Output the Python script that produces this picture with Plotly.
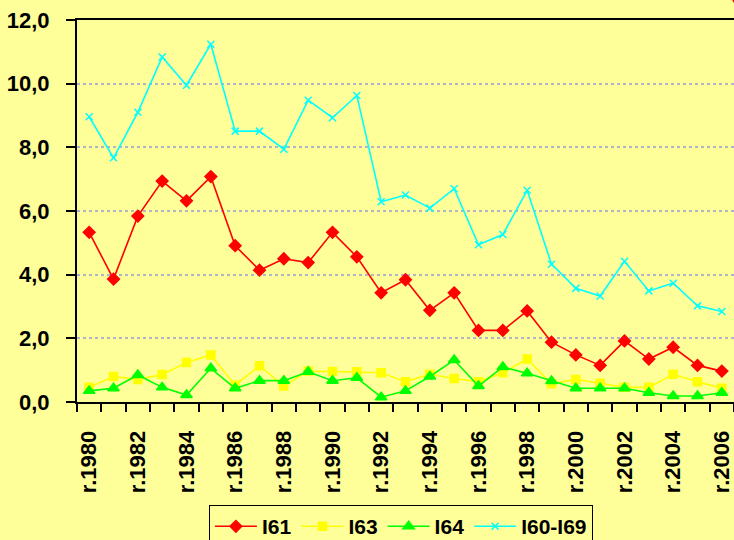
import plotly.graph_objects as go

years = list(range(1980, 2007))
tick_labels = [f"r.{y}" for y in years]

i61 = [5.33, 3.86, 5.84, 6.94, 6.32, 7.08, 4.91, 4.14, 4.50, 4.38, 5.33, 4.56, 3.43, 3.84, 2.88,
       3.43, 2.25, 2.25, 2.86, 1.88, 1.48, 1.15, 1.92, 1.35, 1.72, 1.15, 0.97]
i63 = [0.46, 0.80, 0.71, 0.86, 1.24, 1.48, 0.53, 1.14, 0.50, 0.97, 0.96, 0.95, 0.92, 0.64, 0.87,
       0.74, 0.64, 0.92, 1.35, 0.57, 0.71, 0.59, 0.46, 0.46, 0.87, 0.64, 0.43]
i64 = [0.35, 0.43, 0.85, 0.46, 0.22, 1.06, 0.43, 0.67, 0.67, 0.95, 0.67, 0.76, 0.15, 0.35, 0.80,
       1.32, 0.50, 1.10, 0.90, 0.66, 0.43, 0.43, 0.43, 0.29, 0.19, 0.19, 0.29]
i60_69 = [8.96, 7.67, 9.10, 10.84, 9.95, 11.24, 8.51, 8.51, 7.94, 9.48, 8.93, 9.63, 6.29, 6.50, 6.09,
          6.70, 4.94, 5.26, 6.65, 4.33, 3.57, 3.33, 4.42, 3.49, 3.73, 3.02, 2.84]

series = [
    ("I61", i61, "#FF0000", "diamond", 9),
    ("I63", i63, "#FFFF00", "square", 8),
    ("I64", i64, "#00FF00", "triangle-up", 10),
    ("I60-I69", i60_69, "#00FFFF", "x-thin", 7),
]

x = list(range(len(years)))
fig = go.Figure()
for name, vals, color, sym, size in series:
    fig.add_trace(go.Scatter(
        x=x, y=vals, name=name, mode="lines+markers",
        line=dict(color=color, width=1.6),
        marker=dict(symbol=sym, size=size, color=color,
                    line=dict(color=color, width=1.5)),
    ))

bg = "#FFFF99"
font = dict(family="Liberation Sans, Arial, sans-serif", size=22, color="black", weight="bold")

fig.update_layout(
    width=734, height=540,
    margin=dict(l=77, r=0, t=20, b=138, autoexpand=False),
    paper_bgcolor=bg, plot_bgcolor=bg,
    separators=",.",
    font=font,
    showlegend=True,
    legend=dict(
        orientation="h", x=0.493, xanchor="center", y=-0.27, yanchor="top",
        xref="paper", yref="paper",
        bgcolor=bg, bordercolor="black", borderwidth=1,
        font=dict(family="Liberation Sans, Arial, sans-serif", size=21, color="black", weight="bold"),
        itemwidth=42, tracegroupgap=0,
    ),
    xaxis=dict(
        range=[-0.5, len(years) - 0.5], automargin=False,
        tickmode="array", tickvals=x[::2], ticktext=tick_labels[::2],
        tickangle=-90, ticks="outside", ticklen=8, tickcolor="rgba(0,0,0,0)",
        ticklabelstandoff=10,
        showgrid=False, zeroline=False,
        showline=True, linecolor="black", linewidth=2, mirror=True,
        minor=dict(tick0=-0.5, dtick=1, ticks="outside", ticklen=8,
                   tickcolor="black", tickwidth=2, showgrid=False),
        tickfont=font,
    ),
    yaxis=dict(
        range=[0, 12], dtick=2, tick0=0, tickformat=".1f", automargin=False,
        ticks="outside", ticklen=9, tickcolor="black", tickwidth=2,
        ticklabelstandoff=12,
        showgrid=True, gridcolor="#B4B4C8", griddash="dot", gridwidth=2,
        zeroline=False, showline=True, linecolor="black", linewidth=2,
        tickfont=font,
    ),
    shapes=[
        dict(type="circle", xref="paper", yref="paper",
             x0=0.995, x1=1.04, y0=1.03, y1=1.11,
             fillcolor="#FF0000", line=dict(width=0)),
    ],
)

fig.write_html("out.html", config={"displayModeBar": False},
               post_script="document.body.style.margin='0';")
